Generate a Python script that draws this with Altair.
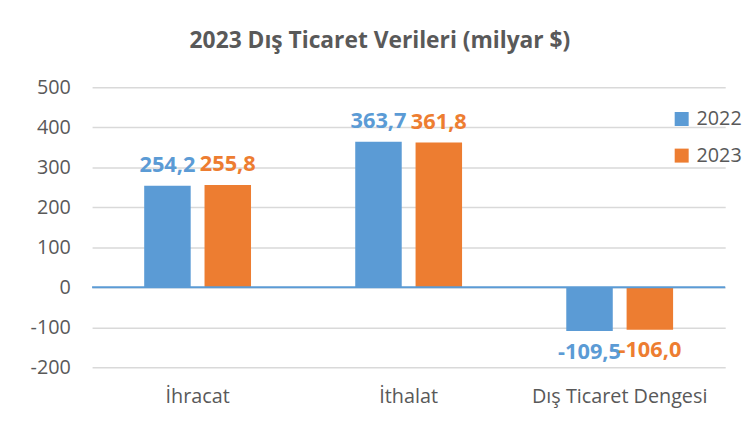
import altair as alt
import pandas as pd

categories = ["İhracat", "İthalat", "Dış Ticaret Dengesi"]
years = ["2022", "2023"]
values_2022 = [254.2, 363.7, -109.5]
values_2023 = [255.8, 361.8, -106.0]

rows = []
for c, v22, v23 in zip(categories, values_2022, values_2023):
    rows.append({"cat": c, "year": "2022", "value": v22})
    rows.append({"cat": c, "year": "2023", "value": v23})
df = pd.DataFrame(rows)
df["label"] = df["value"].map(lambda v: f"{v:.1f}".replace(".", ","))

FONT = "Open Sans"
colors = ["#5B9BD5", "#ED7D31"]

x = alt.X("cat:N", sort=categories, title=None,
          scale=alt.Scale(paddingInner=0.494, paddingOuter=0.247),
          axis=alt.Axis(labelAngle=0, domain=False, ticks=False, grid=False, labelPadding=20,
                        labelFontSize=20, labelColor="#595959", labelFont=FONT))
xo = alt.XOffset("year:N", scale=alt.Scale(paddingInner=0.23, paddingOuter=0))
y = alt.Y("value:Q", title=None,
          scale=alt.Scale(domain=[-200, 500], nice=False),
          axis=alt.Axis(values=list(range(-200, 501, 100)), domain=False, ticks=False,
                        labelExpr="replace(datum.label, '\u2212', '-')",
                        labelPadding=22, labelFontSize=20, labelColor="#595959",
                        labelFont=FONT, gridColor="#d9d9d9", gridWidth=1.5))
color = alt.Color("year:N", scale=alt.Scale(domain=years, range=colors),
                  legend=alt.Legend(title=None, orient="none", legendX=586, legendY=22,
                                    symbolType="square", symbolSize=200,
                                    symbolStrokeWidth=0, symbolOpacity=1,
                                    labelFontSize=20, labelColor="#595959",
                                    labelFont=FONT, rowPadding=17, labelOffset=5))

base = alt.Chart(df)
bars = base.mark_bar(size=47).encode(x=x, xOffset=xo, y=y, color=color)

zero = alt.Chart(pd.DataFrame({"z": [0]})).mark_rule(color="#5B9BD5", strokeWidth=2).encode(
    y=alt.Y("z:Q"))

pos_text = base.transform_filter("datum.value >= 0").mark_text(
    fontSize=22, fontWeight="bold", font=FONT, baseline="alphabetic", dy=-14).encode(
    x=x, xOffset=xo, y=y, text="label:N",
    color=alt.Color("year:N", scale=alt.Scale(domain=years, range=colors), legend=None))
neg_text = base.transform_filter("datum.value < 0").mark_text(
    fontSize=22, fontWeight="bold", font=FONT, baseline="top", dy=11).encode(
    x=x, xOffset=xo, y=y, text="label:N",
    color=alt.Color("year:N", scale=alt.Scale(domain=years, range=colors), legend=None))

chart = alt.layer(bars, zero, pos_text, neg_text).properties(
    width=640, height=283, background="white",
    title=alt.TitleParams("2023 Dış Ticaret Verileri (milyar $)", fontSize=23,
                          font=FONT, fontWeight="bold", color="#595959",
                          anchor="middle", dx=-29, offset=25),
    autosize=alt.AutoSizeParams(type="none"),
    padding={"left": 85, "top": 78, "right": 19, "bottom": 46},
).configure_view(stroke=None)

chart.save("out.html", embed_options={"renderer": "svg", "actions": False})
